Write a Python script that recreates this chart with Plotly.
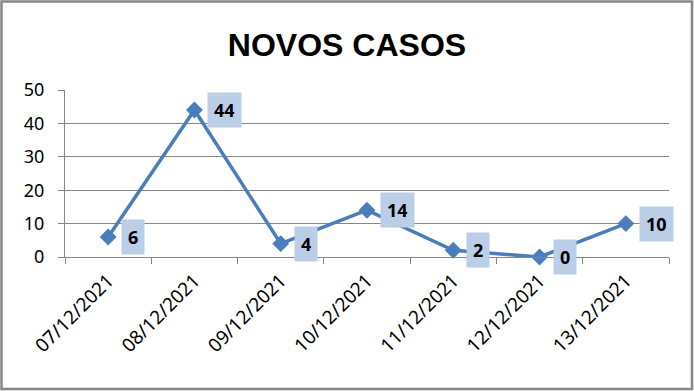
import plotly.graph_objects as go

dates = ["07/12/2021", "08/12/2021", "09/12/2021", "10/12/2021",
         "11/12/2021", "12/12/2021", "13/12/2021"]
cases = [6, 44, 4, 14, 2, 0, 10]

W, H = 694, 391
ML, MR, MT, MB = 65, 25, 90, 134
PW, PH = W - ML - MR, H - MT - MB

def px2paper_x(px):
    return (px - ML) / PW

def px2paper_y(py):
    return (H - MB - py) / PH

fig = go.Figure()
fig.add_trace(go.Scatter(
    x=dates, y=cases, mode="lines+markers",
    line=dict(color="#4A7EBB", width=3.5),
    marker=dict(symbol="diamond", size=13, color="#4A7EBB"),
    cliponaxis=False, hoverinfo="skip"
))

for d, v in zip(dates, cases):
    fig.add_annotation(
        x=d, y=v, text="<b>%d</b>" % v, showarrow=False,
        xanchor="left", yanchor="middle", xshift=13,
        font=dict(family="Noto Sans", size=18, color="black"),
        bgcolor="#BACEE8", borderpad=6, height=22
    )

# chart border
fig.add_shape(type="rect", xref="paper", yref="paper",
              x0=px2paper_x(1.5), x1=px2paper_x(692), y0=px2paper_y(1.5), y1=px2paper_y(389),
              line=dict(color="#868686", width=2.5), layer="below")

fig.update_layout(
    width=W, height=H,
    margin=dict(l=ML, r=MR, t=MT, b=MB),
    paper_bgcolor="white", plot_bgcolor="white",
    showlegend=False,
    title=dict(text="<b>NOVOS CASOS</b>", x=0.5, xanchor="center",
               y=1 - 45 / H, yanchor="middle",
               font=dict(family="Liberation Sans", size=32, color="black")),
    font=dict(family="Noto Sans", size=18, color="black"),
    xaxis=dict(type="category", range=[-0.5, 6.5], tickangle=-45,
               showline=True, linecolor="#868686", linewidth=1,
               ticks="outside", tickson="boundaries", ticklen=6, tickcolor="#868686",
               ticklabelstandoff=4, tickfont=dict(size=19),
               showgrid=False, fixedrange=True),
    yaxis=dict(range=[0, 50], dtick=10, showline=True, linecolor="#868686",
               ticks="outside", ticklen=6, tickcolor="#868686",
               ticklabelstandoff=10,
               showgrid=True, gridcolor="#868686", gridwidth=1,
               zeroline=False, fixedrange=True),
)

fig.write_html("out.html", config={"displayModeBar": False},
               post_script="document.body.style.margin='0';document.body.style.overflow='hidden';")
